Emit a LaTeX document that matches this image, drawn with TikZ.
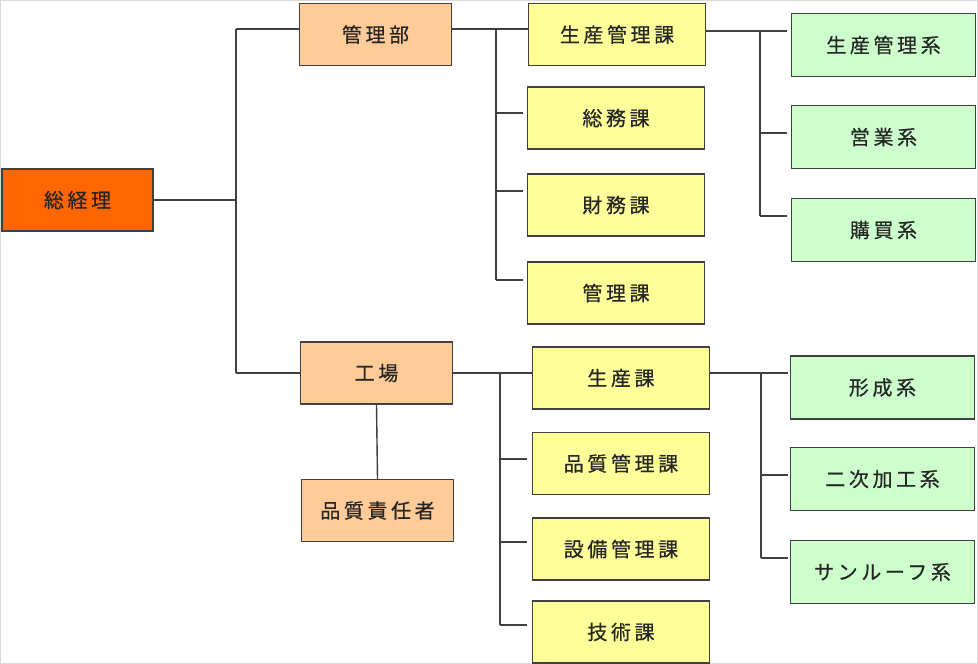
\documentclass[tikz,border=0pt]{standalone}
\usepackage{fontspec}
\newfontfamily\jp[LetterSpace=18,FakeBold=0.6]{Noto Sans CJK JP}
\definecolor{boss}{HTML}{FF6600}
\definecolor{bu}{HTML}{FFCC99}
\definecolor{ka}{HTML}{FFFF99}
\definecolor{kei}{HTML}{CCFFCC}
\definecolor{ln}{HTML}{404040}

\begin{document}
\begin{tikzpicture}[x=1pt,y=-1pt,
  box/.style={draw=ln,line width=1.1pt,inner sep=0pt,font=\jp\fontsize{20}{20}\selectfont,text=black!85},
  bossbox/.style={box,fill=boss,minimum width=151pt,minimum height=62pt},
  bubox/.style={box,fill=bu,minimum width=152pt,minimum height=62pt},
  kabox/.style={box,fill=ka,minimum width=177pt,minimum height=62pt},
  keibox/.style={box,fill=kei,minimum width=184pt,minimum height=63pt},
  conn/.style={ln,line width=1.4pt}]
\useasboundingbox (0,0) rectangle (978,664);
\draw[black!15,line width=1pt] (0.5,0.5) rectangle (977.5,663.5);
% top and departments
\node[bossbox] (sokeiri) at (77.5,200) {総経理};
\node[bubox] (kanribu) at (375.5,34.5) {管理部};
\node[bubox] (kojo) at (376.5,373) {工場};
\node[bubox] (hinsekinin) at (377.5,510.5) {品質責任者};
% sections
\node[kabox] (seikanka) at (617,34.5) {生産管理課};
\node[kabox] (somuka) at (616,118) {総務課};
\node[kabox] (zaimuka) at (616,205) {財務課};
\node[kabox] (kanrika) at (616,293) {管理課};
\node[kabox] (seisanka) at (621,378) {生産課};
\node[kabox] (hinkanka) at (621,463.5) {品質管理課};
\node[kabox] (setsubika) at (621,549) {設備管理課};
\node[kabox] (gijutsuka) at (621,632) {技術課};
% teams
\node[keibox] (seikankei) at (883.5,45) {生産管理系};
\node[keibox] (eigyokei) at (883.5,137) {営業系};
\node[keibox] (kobaikei) at (883.5,230) {購買系};
\node[keibox] (keiseikei) at (882.5,387.5) {形成系};
\node[keibox] (nijikei) at (882.5,479) {二次加工系};
\node[keibox] (sunroofkei) at (882.5,572) {サンルーフ系};
% connectors
\coordinate (jA) at (236,29); \coordinate (jB) at (236,373);
\draw[conn] (sokeiri.east) -- (sokeiri.east -| jA); \draw[conn] (jA) -- (jB);
\draw[conn] (jA) -- (jA -| kanribu.west); \draw[conn] (jB) -- (jB -| kojo.west);
\coordinate (kA) at (496,29);
\draw[conn] (kanribu.east |- kA) -- (kA -| seikanka.west); \draw[conn] (kA) -- (496,280);
\foreach \y in {113,191,280} \draw[conn] (496,\y) -- (523,\y);
\coordinate (sA) at (760,31);
\draw[conn] (seikanka.east |- sA) -- (787,31); \draw[conn] (sA) -- (760,216);
\foreach \y in {133,216} \draw[conn] (760,\y) -- (787,\y);
\coordinate (fA) at (500,373);
\draw[conn] (kojo.east |- fA) -- (fA -| seisanka.west); \draw[conn] (fA) -- (500,625);
\foreach \y in {459,542,625} \draw[conn] (500,\y) -- (527,\y);
\draw[conn] (kojo.south) -- (hinsekinin.north);
\coordinate (pA) at (761,373);
\draw[conn] (seisanka.east |- pA) -- (788,373); \draw[conn] (pA) -- (761,558);
\foreach \y in {475,558} \draw[conn] (761,\y) -- (788,\y);
\end{tikzpicture}
\end{document}
